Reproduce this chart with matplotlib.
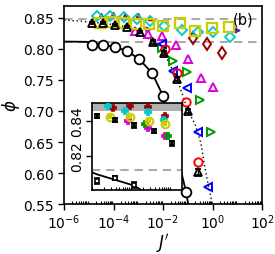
import numpy as np
import matplotlib
matplotlib.use("Agg")
import matplotlib.pyplot as plt
from matplotlib.ticker import LogLocator, NullFormatter

# ---------------- data (main panel) ----------------
circ_J = [1.35e-5, 3.77e-5, 1.15e-4, 3.5e-4, 1.07e-3, 3.6e-3, 1.0e-2, 8.5e-2]
circ_phi = [0.8065, 0.8065, 0.8032, 0.7968, 0.7839, 0.7613, 0.7242, 0.5694]

fit_J = [1e-6, 8e-6, 1.35e-5, 3.77e-5, 1.15e-4, 3.5e-4, 1.07e-3, 3.6e-3, 1.0e-2, 8.5e-2, 0.115]
fit_phi = [0.812, 0.8115, 0.8095, 0.8065, 0.8032, 0.7968, 0.7839, 0.7613, 0.7242, 0.5694, 0.54]

tri_J = [1.35e-5, 3.77e-5, 1.15e-4, 3.5e-4, 1.18e-3, 3.9e-3, 1.1e-2, 3.7e-2, 0.102, 0.26]
tri_phi = [0.8419, 0.8419, 0.8387, 0.8355, 0.8274, 0.8113, 0.7935, 0.7516, 0.700, 0.6016]
tri_err = [0.002, 0.002, 0.002, 0.002, 0.002, 0.003, 0.003, 0.004, 0.004, 0.005]

dot_J = [1e-6, 5e-6, 1.35e-5, 3.77e-5, 1.15e-4, 3.5e-4, 1.18e-3, 3.9e-3, 1.1e-2, 3.7e-2, 0.102, 0.196, 0.343, 0.498, 0.723, 1.05]
dot_phi = [0.8465, 0.845, 0.8425, 0.8419, 0.8387, 0.8355, 0.8274, 0.8113, 0.7935, 0.7516, 0.700, 0.679, 0.647, 0.6065, 0.5742, 0.545]

sq_J = [2.85e-5, 8.7e-5, 2.65e-4, 8.1e-4, 2.7e-3, 1.0e-2, 4.9e-2, 0.196, 0.955, 4.6]
sq_phi = [0.8419, 0.8435, 0.8419, 0.8403, 0.8403, 0.8371, 0.8419, 0.829, 0.8339, 0.8355]

dia_J = [2.15e-5, 7.2e-5, 2.65e-4, 8.9e-4, 2.99e-3, 1.1e-2, 5.9e-2, 0.26, 1.05, 5.1]
dia_phi = [0.8525, 0.8525, 0.851, 0.848, 0.845, 0.8371, 0.8306, 0.8274, 0.8274, 0.8194]

drs_J = [3.0e-5, 9.7e-5, 3.0e-4, 9.3e-4, 3.1e-3]
drs_phi = [0.8555, 0.8565, 0.8555, 0.854, 0.8505]

dr_J = [0.163, 0.60, 2.42]
dr_phi = [0.8177, 0.8081, 0.7935]

mag_J = [7.4e-4, 2.48e-3, 9.1e-3, 3.35e-2, 0.102, 0.343, 1.05]
mag_phi = [0.829, 0.8242, 0.821, 0.8065, 0.7839, 0.7532, 0.7387]

grn_J = [9.1e-3, 2.53e-2, 9.3e-2, 0.313, 0.87]
grn_phi = [0.8016, 0.7806, 0.7629, 0.7177, 0.6661]

blu_J = [9.1e-3, 2.53e-2, 9.3e-2, 0.26, 0.658]
blu_phi = [0.808, 0.7645, 0.7371, 0.6661, 0.5774]

red_J = [1.2e-2, 3.7e-2, 8.5e-2, 0.26]
red_phi = [0.800, 0.7613, 0.7145, 0.6177]

pur_J = [2.5e-3, 9.8]
pur_phi = [0.832, 0.8306]

ref_hi = 0.849
ref_lo = 0.812

# ---------------- data (inset) ----------------
in_blk_J = [1.35e-5, 3.9e-5, 1.2e-4, 3.9e-4, 1.13e-3]
in_blk_phi = [0.8429, 0.8406, 0.8377, 0.8343, 0.8274]
in_blk_err = [0.0012, 0.0012, 0.0014, 0.0014, 0.0014]

in_cir_J = [1.35e-5, 3.9e-5, 1.2e-4]
in_cir_phi = [0.8057, 0.8074, 0.8034]
in_cir_err = [0.0015, 0.0012, 0.0018]

in_cy_J = [2.58e-5, 7.05e-5, 2.74e-4, 7.05e-4]
in_cy_phi = [0.8486, 0.8457, 0.8451, 0.8406]
in_dr_J = [3.47e-5, 9.5e-5, 2.74e-4, 7.5e-4]
in_dr_phi = [0.8474, 0.8486, 0.848, 0.8429]
in_ye_J = [2.9e-5, 9.5e-5, 2.9e-4, 7.5e-4]
in_ye_phi = [0.8423, 0.8423, 0.840, 0.8383]
in_mg_J = [8.4e-5, 2.74e-4, 7.5e-4]
in_mg_phi = [0.840, 0.836, 0.8314]
in_gr_J = [2.3e-4, 8.9e-4]
in_gr_phi = [0.8383, 0.8314]

band_lo, band_hi = 0.8455, 0.8503

xticks_main = [1e-6, 1e-4, 1e-2, 1e0, 1e2]
xticklabels_main = [r"$10^{-6}$", r"$10^{-4}$", r"$10^{-2}$", r"$10^{0}$", r"$10^{2}$"]
yticks_main = [0.55, 0.60, 0.65, 0.70, 0.75, 0.80, 0.85]
yticks_inset = [0.82, 0.84]

# ---------------- figure ----------------
plt.rcParams['font.family'] = ['DejaVu Sans']
fig = plt.figure(figsize=(2.75, 2.55), dpi=100)
ax = fig.add_axes([0.233, 0.196, 0.72, 0.777])
ax.set_xscale('log')
ax.set_xlim(1e-6, 1e2)
ax.set_ylim(0.55, 0.8695)

dash = dict(color='#999999', lw=1.2, dashes=(5, 3.5), zorder=1)
ax.axhline(ref_hi, **dash)
ax.axhline(ref_lo, **dash)

ax.plot(dot_J, dot_phi, ls=(0, (1, 2)), color='k', lw=1.0, zorder=2)
ax.plot(fit_J, fit_phi, '-', color='k', lw=1.3, zorder=2)

ms = 6
ax.plot(drs_J, drs_phi, '^', mfc='#aa0000', mec='#aa0000', ms=3, ls='none', zorder=3)
ax.plot(dr_J, dr_phi, 'd', mfc='none', mec='#990000', mew=1.4, ms=ms, ls='none', zorder=3)
ax.plot(pur_J, pur_phi, '>', mfc='#5522aa', mec='#5522aa', mew=1.0, ms=3.5, ls='none', zorder=3)
ax.plot(mag_J, mag_phi, '^', mfc='none', mec='#dd00dd', mew=1.4, ms=ms, ls='none', zorder=3)
ax.plot(grn_J, grn_phi, '>', mfc='none', mec='#009900', mew=1.4, ms=ms, ls='none', zorder=3)
ax.plot(blu_J, blu_phi, '<', mfc='none', mec='#0000ff', mew=1.4, ms=ms, ls='none', zorder=3)
ax.plot(red_J, red_phi, 'o', mfc='none', mec='#ff0000', mew=1.4, ms=ms, ls='none', zorder=3)
ax.plot(dia_J, dia_phi, 'D', mfc='none', mec='#00cccc', mew=1.4, ms=5.5, ls='none', zorder=4)
ax.plot(sq_J, sq_phi, 's', mfc='none', mec='#cccc00', mew=1.6, ms=7, ls='none', zorder=5)
ax.errorbar(tri_J, tri_phi, yerr=tri_err, fmt='^', mfc='none', mec='k', ecolor='k',
            mew=1.3, ms=ms, capsize=2, elinewidth=1, zorder=6)
ax.plot(circ_J, circ_phi, 'o', mfc='white', mec='k', mew=1.3, ms=7, ls='none', zorder=6)

ax.set_xticks(xticks_main)
ax.set_xticklabels(xticklabels_main, fontsize=10)
ax.xaxis.set_minor_locator(LogLocator(base=10, subs=np.arange(2, 10), numticks=20))
ax.xaxis.set_minor_formatter(NullFormatter())
ax.tick_params(axis='x', which='minor', direction='in', length=2.5, width=0.8)
ax.tick_params(axis='x', which='major', direction='out', length=4, width=1, pad=2)
ax.set_yticks(yticks_main)
ax.set_yticklabels(["%.2f" % v for v in yticks_main], fontsize=10)
ax.tick_params(axis='y', which='major', direction='out', length=4, width=1)
for s in ax.spines.values():
    s.set_linewidth(1.2)
ax.set_xlabel(r"$J'$", fontsize=12, labelpad=0)
ax.set_ylabel(r"$\phi$", fontsize=12, labelpad=1)
ax.text(0.904, 0.934, "(b)", transform=ax.transAxes, ha='center', va='center', fontsize=10.5, zorder=7)

# ---------------- inset ----------------
axi = fig.add_axes([0.335, 0.251, 0.327, 0.341])
axi.set_xscale('log')
axi.set_xlim(1e-5, 2.0e-3)
axi.set_ylim(0.8006, 0.8503)
axi.axhspan(band_lo, band_hi, color='#b0b0b0', lw=0, zorder=1)
axi.axhline(ref_lo, **dash)
axi.plot(fit_J, fit_phi, '-', color='k', lw=1.3, zorder=2)
msi = 5
axi.errorbar(in_dr_J, in_dr_phi, yerr=0.0008, fmt='P', mfc='none', mec='#990000', ecolor='#990000', ms=msi, mew=1.2, capsize=1.5, zorder=3)
axi.errorbar(in_cy_J, in_cy_phi, yerr=0.0008, fmt='P', mfc='none', mec='#00cccc', ecolor='#00cccc', ms=msi, mew=1.3, capsize=1.5, zorder=3)
axi.errorbar(in_mg_J, in_mg_phi, yerr=0.0008, fmt='P', mfc='none', mec='#dd00dd', ecolor='#dd00dd', ms=msi, mew=1.3, capsize=1.5, zorder=3)
axi.errorbar(in_gr_J, in_gr_phi, yerr=0.0008, fmt='P', mfc='none', mec='#009900', ecolor='#009900', ms=msi, mew=1.3, capsize=1.5, zorder=3)
axi.errorbar(in_ye_J, in_ye_phi, yerr=0.0008, fmt='o', mfc='none', mec='#cccc00', ecolor='#cccc00', ms=msi + 0.5, mew=1.5, capsize=1.5, zorder=4)
axi.errorbar(in_blk_J, in_blk_phi, yerr=in_blk_err, fmt='s', mfc='none', mec='k', ecolor='k', ms=3.5, mew=1.2, capsize=2.5, zorder=5)
axi.errorbar(in_cir_J, in_cir_phi, yerr=in_cir_err, fmt='s', mfc='white', mec='k', ecolor='k', ms=3.5, mew=1.2, capsize=2.5, zorder=5)
axi.set_yticks(yticks_inset)
axi.set_yticklabels(["%.2f" % v for v in yticks_inset], fontsize=10, rotation=90, va='center')
axi.tick_params(axis='y', which='major', direction='out', length=4, width=1, pad=2)
axi.xaxis.set_major_locator(LogLocator(base=10, numticks=10))
axi.xaxis.set_minor_locator(LogLocator(base=10, subs=np.arange(2, 10), numticks=20))
axi.xaxis.set_major_formatter(NullFormatter())
axi.xaxis.set_minor_formatter(NullFormatter())
axi.tick_params(axis='x', which='both', direction='in', length=2.5, width=0.8)
for s in axi.spines.values():
    s.set_linewidth(1.2)

fig.savefig("out.png", dpi=100)
